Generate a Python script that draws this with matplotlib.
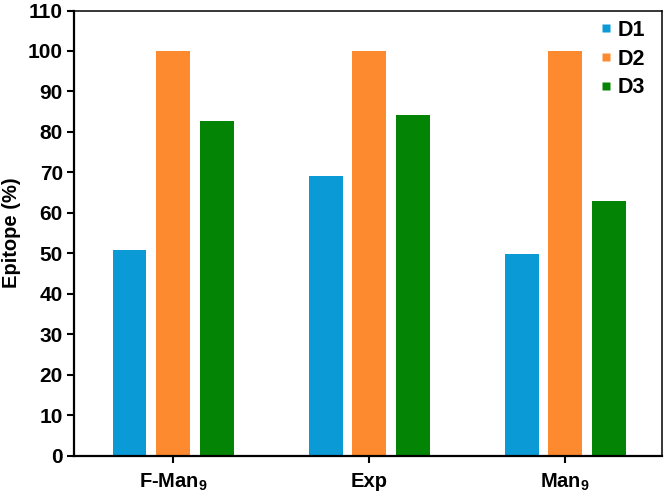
import matplotlib
matplotlib.use("Agg")
import matplotlib.pyplot as plt
from matplotlib.lines import Line2D
import numpy as np

plt.rcParams['font.family'] = ['Liberation Sans', 'DejaVu Sans']
plt.rcParams['font.weight'] = 'bold'
plt.rcParams['mathtext.fontset'] = 'custom'
plt.rcParams['mathtext.rm'] = 'Liberation Sans:bold'
plt.rcParams['mathtext.it'] = 'Liberation Sans:bold'
plt.rcParams['mathtext.bf'] = 'Liberation Sans:bold'
plt.rcParams['mathtext.default'] = 'rm'

categories = ['F-Man$_9$', 'Exp', 'Man$_9$']
series_names = ['D1', 'D2', 'D3']
d1 = [50.7, 69.0, 49.9]
d2 = [100, 100, 100]
d3 = [82.7, 84.1, 62.8]
colors = ['#0A9BD7', '#FE8A30', '#048404']
yticks = list(range(0, 111, 10))

fig = plt.figure(figsize=(6.64, 4.93), dpi=100)
ax = fig.add_axes([74/664, 1-455.5/493, (661.5-74)/664, (455.5-10.5)/493])

x = np.arange(len(categories))
w = 0.173
step = 0.222
for i, (vals, c) in enumerate(zip([d1, d2, d3], colors)):
    ax.bar(x + (i-1)*step, vals, width=w, color=c, edgecolor='none')

ax.set_xlim(-0.505, 2.49)
ax.set_ylim(0, 110)
ax.set_yticks(yticks)
ax.set_xticks(x)
ax.set_xticklabels(categories, fontsize=14.5, fontweight='bold')
ax.tick_params(axis='y', labelsize=15, length=5, width=1.5, direction='out', pad=3)
ax.tick_params(axis='x', length=5, width=1.5, direction='out', pad=7)
for lab in ax.get_yticklabels():
    lab.set_fontweight('bold')
ax.set_ylabel('Epitope (%)', fontsize=14.5, fontweight='bold', labelpad=5)

ax.spines['left'].set_linewidth(1.6)
ax.spines['bottom'].set_linewidth(1.6)
ax.spines['top'].set_linewidth(1.1)
ax.spines['right'].set_linewidth(1.1)

handles = [Line2D([0], [0], marker='s', linestyle='none', markersize=5.2,
                  markerfacecolor=c, markeredgecolor='none') for c in colors]
leg = fig.legend(handles, series_names, loc='upper right',
                 bbox_to_anchor=(645/664, 1-20/493), frameon=False,
                 prop={'size': 15.5, 'weight': 'bold'}, handlelength=0.6,
                 handletextpad=0.25, labelspacing=0.35, borderpad=0,
                 borderaxespad=0)

fig.savefig('out.png', dpi=100)
